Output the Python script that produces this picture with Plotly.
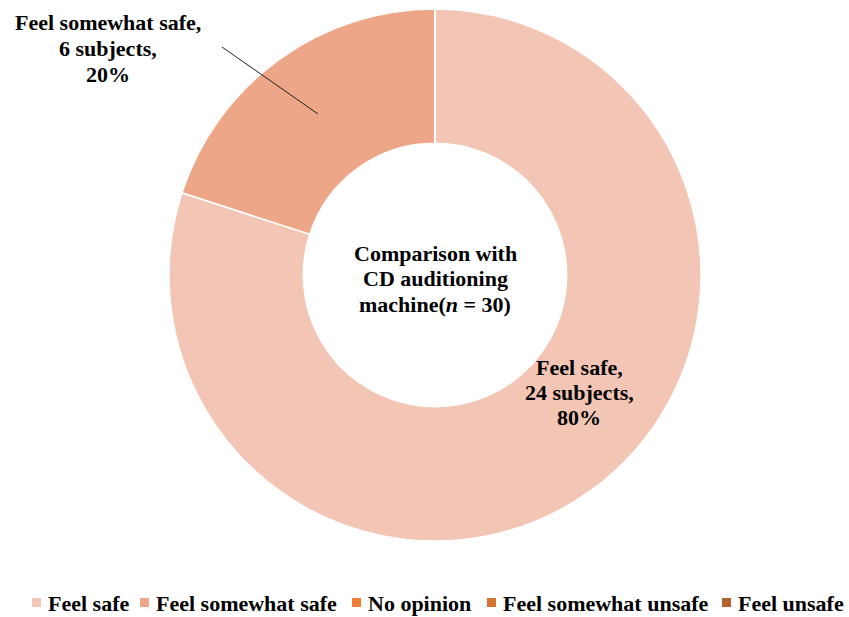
import plotly.graph_objects as go

# Survey responses: comparison with CD auditioning machine
categories = ["Feel safe", "Feel somewhat safe", "No opinion",
              "Feel somewhat unsafe", "Feel unsafe"]
subjects = [24, 6, 0, 0, 0]
colors = ["#F3C5B4", "#EEA688", "#EC7F35", "#D6732F", "#B4612C"]

W, H = 849, 617
total = sum(subjects)


def px(x):
    return x / W


def py(y):
    return 1 - y / H


FONT = "Liberation Serif, Times New Roman, serif"

fig = go.Figure()
fig.add_trace(go.Pie(
    labels=categories,
    values=subjects,
    marker=dict(colors=colors, line=dict(color="white", width=1.5)),
    hole=0.495,
    sort=False,
    direction="clockwise",
    rotation=0,
    textinfo="none",
    hoverinfo="skip",
    showlegend=False,
    domain=dict(x=[px(435 - 266), px(435 + 266)], y=[py(541), py(9)]),
))

annotations = []
shapes = []


def add_lines(lines, cx, y0, step):
    for i, line in enumerate(lines):
        annotations.append(dict(
            text=line, x=px(cx), y=py(y0 + i * step),
            xref="paper", yref="paper", xanchor="center", yanchor="middle",
            showarrow=False, font=dict(family=FONT, size=22, color="black"),
        ))


def slice_lines(i):
    pct = round(100 * subjects[i] / total)
    return [f"<b>{categories[i]},</b>", f"<b>{subjects[i]} subjects,</b>",
            f"<b>{pct}%</b>"]


# Centre title
add_lines(["<b>Comparison with</b>", "<b>CD auditioning</b>",
           f"<b>machine(<i>n</i> = {total})</b>"], 435, 253, 25.5)

# Slice labels
add_lines(slice_lines(0), 579, 367, 25)
add_lines(slice_lines(1), 108, 23, 25.5)

# Leader line for the outside label
shapes.append(dict(type="line", xref="paper", yref="paper",
                   x0=px(222), y0=py(47), x1=px(318), y1=py(114),
                   line=dict(color="#222222", width=1)))

# Legend row along the bottom
legend_x = [32, 140, 352, 487, 722]
for xi, name, col in zip(legend_x, categories, colors):
    shapes.append(dict(type="rect", xref="paper", yref="paper",
                       x0=px(xi), x1=px(xi + 9), y0=py(607), y1=py(598),
                       fillcolor=col, line=dict(width=0)))
    annotations.append(dict(
        text=f"<b>{name}</b>", x=px(xi + 14), y=py(603),
        xref="paper", yref="paper", xanchor="left", yanchor="middle",
        showarrow=False, font=dict(family=FONT, size=22, color="black"),
    ))

fig.update_layout(
    width=W, height=H,
    margin=dict(l=0, r=0, t=0, b=0),
    paper_bgcolor="white", plot_bgcolor="white",
    annotations=annotations, shapes=shapes,
    font=dict(family=FONT),
)

fig.write_html("out.html")
